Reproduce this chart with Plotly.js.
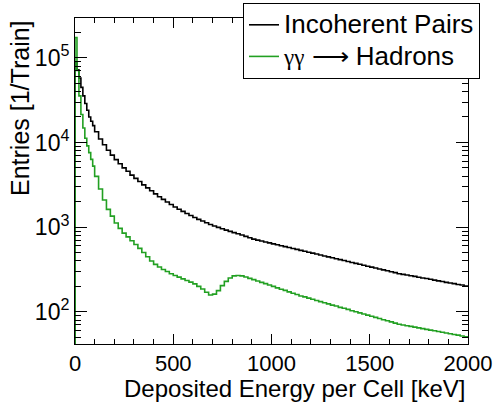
<!DOCTYPE html>
<html>
<head>
<meta charset="utf-8">
<script src="https://cdn.plot.ly/plotly-3.0.1.min.js"></script>
<style>
  html, body { margin: 0; padding: 0; background: #fff; }
  #chart { width: 498px; height: 404px; }
</style>
</head>
<body>
<div id="chart"></div>
<script>
// Bin edges in keV (10 keV bins up to 100 keV, 20 keV bins above)
const binEdgesKeV = [0,10,20,30,40,50,60,70,80,90,100,
  120,140,160,180,200,220,240,260,280,300,320,340,360,380,400,420,440,460,480,500,
  520,540,560,580,600,620,640,660,680,700,720,740,760,780,800,820,840,860,880,900,
  920,940,960,980,1000,1020,1040,1060,1080,1100,1120,1140,1160,1180,1200,1220,1240,1260,1280,1300,
  1320,1340,1360,1380,1400,1420,1440,1460,1480,1500,1520,1540,1560,1580,1600,1620,1640,1660,1680,1700,
  1720,1740,1760,1780,1800,1820,1840,1860,1880,1900,1920,1940,1960,1980,2000];

// Entries per train in each bin
const incoherentPairs = [89000,72000,57500,44700,35500,28800,24000,20000,17800,15800,
  13400,11000,9400,8100,7080,6270,5600,5010,4570,4120,3770,3460,3160,2910,2690,2470,2290,2130,1980,1850,
  1730,1630,1535,1450,1375,1300,1235,1180,1125,1075,1030,993,957,923,891,861,834,807,778,750,
  723,703,685,668,652,635,619,604,589,574,560,546,532,519,506,493,481,469,457,446,
  435,424,413,403,393,383,373,364,355,346,337,329,321,313,305,297,290,282,277,272,
  267,262,256,251,247,242,237,232,228,223,219,215,210,207,202];

const gammaGammaHadrons = [174000,70800,35500,21400,14800,11200,9120,7590,6310,5250,
  3980,2820,2090,1620,1350,1120,966,851,767,692,624,562,501,447,398,363,339,316,299,282,
  269,257,245,234,224,214,200,186,170,158,162,178,204,229,251,266,269,266,258,248,
  240,231,223,215,207,200,192,185,179,172,166,160,154,150,145,141,136,132,128,124,
  120,117,113,110,107,103,100,97.3,94.2,91.4,88.7,85.9,83.4,80.7,78.3,76.0,73.6,71.4,70.0,68.5,
  67.3,65.9,64.6,63.4,62.1,60.8,59.7,58.5,57.3,56.2,55.1,54.0,53.0,51.9,50.8];

const seriesNames = [
  '<span style="font-size:26px">Incoherent Pairs</span>',
  '<span style="font-size:26px"><span style="font-family:Liberation Serif, serif;font-size:23px">γγ</span> ⟶ Hadrons</span>'];
const xTickValues = [0, 500, 1000, 1500, 2000];
const yTickValues = [100, 1000, 10000, 100000];
const yTickText = ['10<sup>2</sup>', '10<sup>3</sup>', '10<sup>4</sup>', '10<sup>5</sup>'];

// Build histogram step outlines (starting from the axis baseline like a ROOT histogram)
function stepTrace(counts, name, color) {
  const xs = [binEdgesKeV[0]];
  const ys = [1e-3];
  for (let i = 0; i < counts.length; i++) {
    xs.push(binEdgesKeV[i]);
    ys.push(counts[i]);
  }
  xs.push(binEdgesKeV[binEdgesKeV.length - 1]);
  ys.push(counts[counts.length - 1]);
  return {
    type: 'scatter', mode: 'lines', name: name,
    x: xs, y: ys,
    line: { shape: 'hv', color: color, width: 1.6 },
    hoverinfo: 'skip'
  };
}

const FONT = 'Liberation Sans, Arial, Helvetica, sans-serif';

const data = [
  stepTrace(incoherentPairs, seriesNames[0], '#000000'),
  stepTrace(gammaGammaHadrons, seriesNames[1], '#22a022')
];

const layout = {
  width: 498, height: 404,
  margin: { l: 75, r: 30, t: 18, b: 60, autoexpand: false },
  paper_bgcolor: '#fff', plot_bgcolor: '#fff',
  font: { family: FONT, size: 22, color: '#000' },
  showlegend: true,
  legend: {
    x: 0.4275, y: 1.046, xanchor: 'left', yanchor: 'top',
    bgcolor: '#fff', bordercolor: '#000', borderwidth: 1,
    font: { family: FONT, size: 22, color: '#000' },
    tracegroupgap: 0
  },
  xaxis: {
    range: [0, 2000], showgrid: false, zeroline: false,
    showline: true, linecolor: '#000', linewidth: 1, mirror: 'allticks',
    ticks: 'inside', ticklen: 10, tickwidth: 1, tickcolor: '#000',
    tickmode: 'array', tickvals: xTickValues, ticktext: xTickValues.map(String),
    tickfont: { family: FONT, size: 22, color: '#000' },
    minor: { ticks: 'inside', ticklen: 5, tickwidth: 1, tickcolor: '#000', dtick: 100, tick0: 0, showgrid: false }
  },
  yaxis: {
    type: 'log', range: [1.62, 5.47], showgrid: false, zeroline: false,
    showline: true, linecolor: '#000', linewidth: 1, mirror: 'allticks',
    ticks: 'inside', ticklen: 12, tickwidth: 1, tickcolor: '#000',
    tickmode: 'array', tickvals: yTickValues, ticktext: yTickText,
    tickfont: { family: FONT, size: 23, color: '#000' },
    minor: { ticks: 'inside', ticklen: 6, tickwidth: 1, tickcolor: '#000', dtick: 'D1', showgrid: false }
  },
  annotations: [
    { text: 'Deposited Energy per Cell [keV]', xref: 'paper', yref: 'paper',
      x: 1, y: -0.135, xanchor: 'right', yanchor: 'middle', showarrow: false,
      font: { family: FONT, size: 24, color: '#000' } },
    { text: 'Entries [1/Train]', xref: 'paper', yref: 'paper', textangle: -90,
      x: -0.14, y: 1, xanchor: 'center', yanchor: 'top', showarrow: false,
      font: { family: FONT, size: 25, color: '#000' } }
  ]
};

Plotly.newPlot('chart', data, layout, { staticPlot: true, displayModeBar: false });
</script>
</body>
</html>
